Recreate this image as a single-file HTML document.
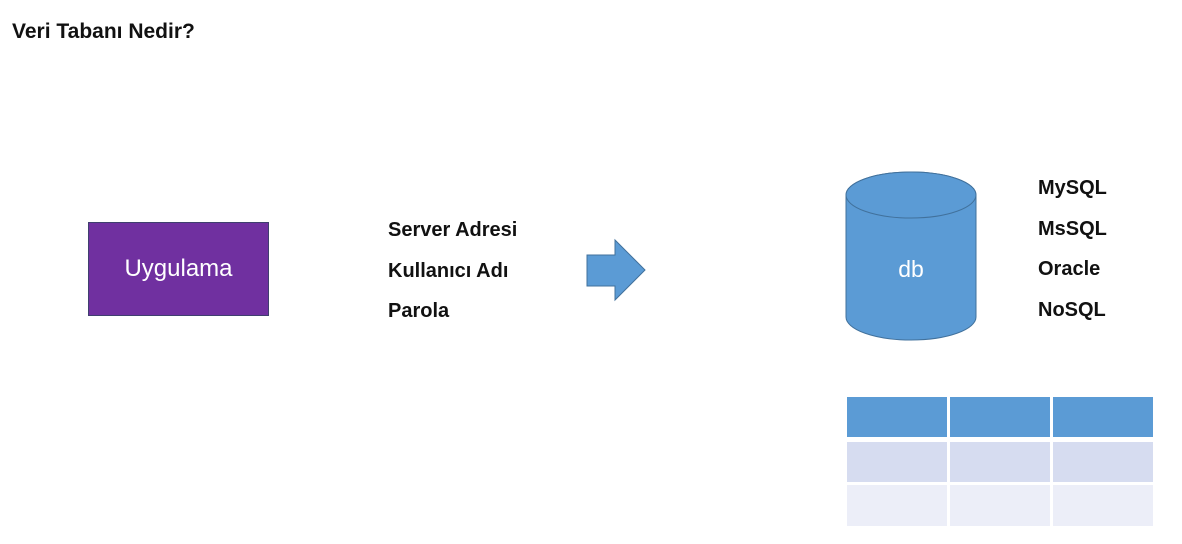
<!DOCTYPE html>
<html><head><meta charset="utf-8"><style>
body{margin:0;width:1182px;height:544px;background:#fff;position:relative;overflow:hidden;font-family:"Liberation Sans",sans-serif;}
.t{position:absolute;font-weight:bold;color:#111;white-space:nowrap;line-height:1;}
</style></head><body>
<div class="t" style="left:12px;top:21px;font-size:21px;">Veri Tabanı Nedir?</div>
<div style="position:absolute;left:88px;top:222px;width:179px;height:92px;background:#7030A0;border:1px solid #3f3f6f;color:#fff;font-size:24px;display:flex;align-items:center;justify-content:center;">Uygulama</div>
<div class="t" style="left:388px;top:220px;font-size:20px;">Server Adresi</div>
<div class="t" style="left:388px;top:261px;font-size:20px;">Kullanıcı Adı</div>
<div class="t" style="left:388px;top:301px;font-size:20px;">Parola</div>
<svg style="position:absolute;left:0;top:0" width="1182" height="544">
<polygon points="587,255 615,255 615,240 645,270 615,300 615,286 587,286" fill="#5B9BD5" stroke="#41719C" stroke-width="1"/>
<path d="M846,195 L846,317 A65,23 0 0 0 976,317 L976,195 A65,23 0 0 0 846,195 Z" fill="#5B9BD5" stroke="#41719C" stroke-width="1"/>
<ellipse cx="911" cy="195" rx="65" ry="23" fill="#5B9BD5" stroke="#41719C" stroke-width="1"/>
<text x="911" y="277" font-size="23" fill="#fff" text-anchor="middle" font-family="Liberation Sans, sans-serif">db</text>
<rect x="847" y="397" width="100" height="40" fill="#5B9BD5"/>
<rect x="950" y="397" width="100" height="40" fill="#5B9BD5"/>
<rect x="1053" y="397" width="100" height="40" fill="#5B9BD5"/>
<rect x="847" y="442" width="100" height="40" fill="#D6DCF0"/>
<rect x="950" y="442" width="100" height="40" fill="#D6DCF0"/>
<rect x="1053" y="442" width="100" height="40" fill="#D6DCF0"/>
<rect x="847" y="485" width="100" height="41" fill="#ECEEF8"/>
<rect x="950" y="485" width="100" height="41" fill="#ECEEF8"/>
<rect x="1053" y="485" width="100" height="41" fill="#ECEEF8"/>
</svg>
<div class="t" style="left:1038px;top:178px;font-size:20px;">MySQL</div>
<div class="t" style="left:1038px;top:219px;font-size:20px;">MsSQL</div>
<div class="t" style="left:1038px;top:259px;font-size:20px;">Oracle</div>
<div class="t" style="left:1038px;top:300px;font-size:20px;">NoSQL</div>
</body></html>
